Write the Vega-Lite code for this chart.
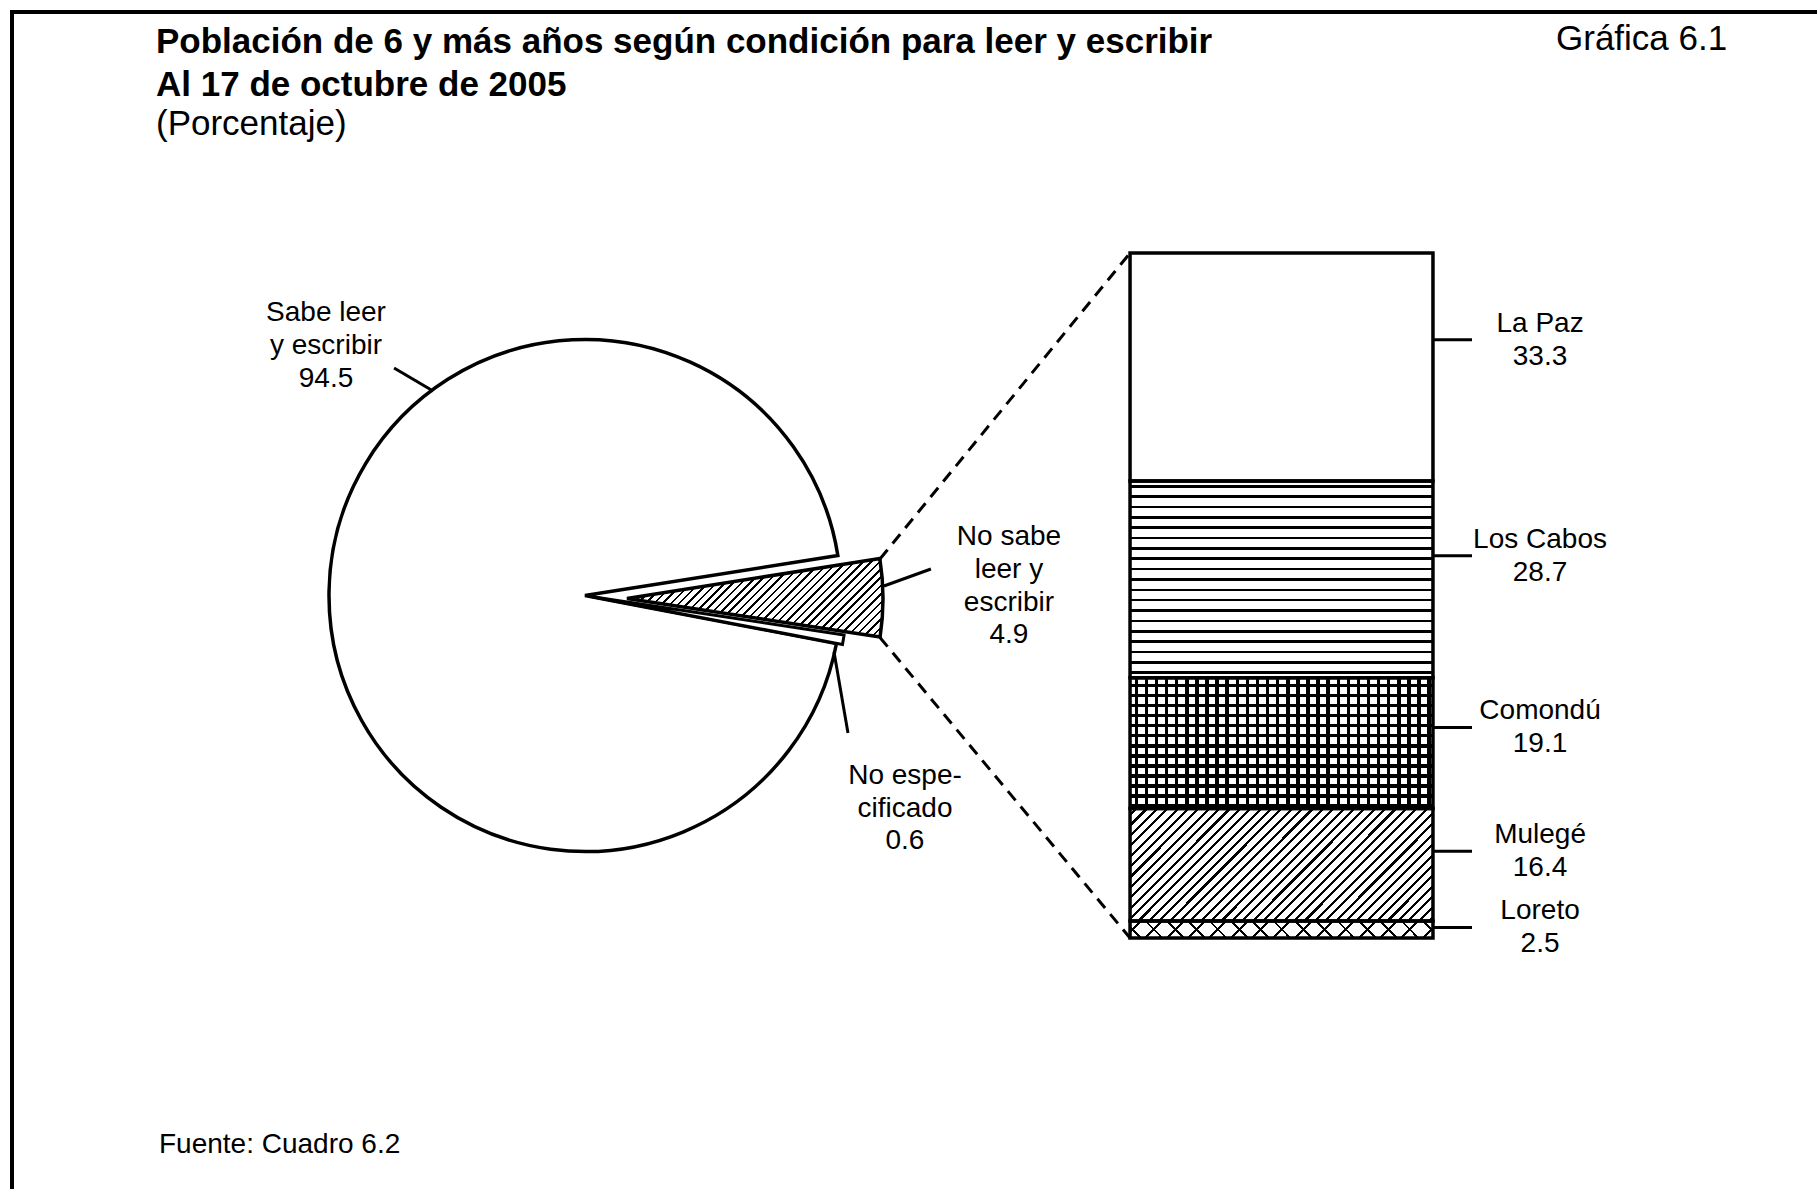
{
"$schema": "https://vega.github.io/schema/vega-lite/v6.json",
"width": 1815, "height": 1187,
"autosize": "none",
"padding": {"left": 12, "top": 12, "right": -10, "bottom": -10},
"background": "white",
"config": {"font": "Liberation Sans", "view": {"stroke": "black", "strokeWidth": 4}, "axis": {"disable": true}},
"title": {"text": ["Población de 6 y más años según condición para leer y escribir", "Al 17 de octubre de 2005"], "subtitle": "(Porcentaje)", "anchor": "start", "frame": "group", "orient": "top", "offset": -130, "dx": 144, "font": "Liberation Sans", "fontSize": 35, "fontWeight": "bold", "lineHeight": 43, "color": "black", "subtitleFont": "Liberation Sans", "subtitleFontSize": 35, "subtitleFontWeight": "normal", "subtitleColor": "black", "subtitlePadding": 4, "subtitleLineHeight": 43},
"datasets": {
 "condicion": [
  {"condicion": "Sabe leer\ny escribir", "pct": 94.5, "orden": 3},
  {"condicion": "No sabe\nleer y\nescribir", "pct": 4.9, "orden": 1},
  {"condicion": "No espe-\ncificado", "pct": 0.6, "orden": 2}
 ],
 "municipios": [
  {"municipio": "La Paz", "pct": 33.3, "orden": 5},
  {"municipio": "Los Cabos", "pct": 28.7, "orden": 4},
  {"municipio": "Comondú", "pct": 19.1, "orden": 3},
  {"municipio": "Mulegé", "pct": 16.4, "orden": 2},
  {"municipio": "Loreto", "pct": 2.5, "orden": 1}
 ],
 "notas": [
  {"nota": "Gráfica 6.1", "tipo": "grafica"},
  {"nota": "Fuente: Cuadro 6.2", "tipo": "fuente"}
 ]
},
"layer": [
 {"data": {"name": "condicion"},
  "transform": [{"stack": "pct", "groupby": [], "sort": [{"field": "orden", "order": "ascending"}], "as": ["t0", "t1"]}, {"filter": "datum.orden === 3"}],
  "mark": {"type": "arc", "outerRadius": 256, "fill": "white", "stroke": "black", "strokeWidth": 3.5},
  "encoding": {
   "x": {"datum": 31.57, "type": "quantitative", "scale": {"domain": [0, 100], "nice": false, "zero": false}},
   "y": {"datum": 50, "type": "quantitative", "scale": {"domain": [0, 100], "range": [926, 241], "nice": false, "zero": false}},
   "theta": {"field": "t0", "type": "quantitative", "scale": {"type": "linear", "domain": [0, 100], "range": [1.41372, 7.6969], "zero": false, "nice": false}},
   "theta2": {"field": "t1"}}},
 {"data": {"name": "condicion"},
  "transform": [{"stack": "pct", "groupby": [], "sort": [{"field": "orden", "order": "ascending"}], "as": ["t0", "t1"]}, {"filter": "datum.orden === 2"}],
  "mark": {"type": "arc", "outerRadius": 256, "fill": "white", "stroke": "black", "strokeWidth": 3, "xOffset": 6, "yOffset": 1},
  "encoding": {
   "x": {"datum": 31.57, "type": "quantitative", "scale": {"domain": [0, 100], "nice": false, "zero": false}},
   "y": {"datum": 50, "type": "quantitative", "scale": {"domain": [0, 100], "range": [926, 241], "nice": false, "zero": false}},
   "theta": {"field": "t0", "type": "quantitative", "scale": {"type": "linear", "domain": [0, 100], "range": [1.41372, 7.6969], "zero": false, "nice": false}},
   "theta2": {"field": "t1"}}},
 {"data": {"name": "condicion"},
  "transform": [{"stack": "pct", "groupby": [], "sort": [{"field": "orden", "order": "ascending"}], "as": ["t0", "t1"]}, {"filter": "datum.orden === 1"}],
  "mark": {"type": "arc", "outerRadius": 256, "stroke": "black", "strokeWidth": 3.5, "xOffset": 42, "yOffset": 3,
   "fill": {"gradient": "linear", "x1": 0, "y1": 0, "x2": 1.194, "y2": 0.366, "stops": [
{"offset":0,"color":"#fff"},
{"offset":0.012,"color":"#fff"},{"offset":0.012,"color":"#000"},{"offset":0.0195,"color":"#000"},{"offset":0.0195,"color":"#fff"},
{"offset":0.037,"color":"#fff"},{"offset":0.037,"color":"#000"},{"offset":0.0445,"color":"#000"},{"offset":0.0445,"color":"#fff"},
{"offset":0.062,"color":"#fff"},{"offset":0.062,"color":"#000"},{"offset":0.0695,"color":"#000"},{"offset":0.0695,"color":"#fff"},
{"offset":0.087,"color":"#fff"},{"offset":0.087,"color":"#000"},{"offset":0.0945,"color":"#000"},{"offset":0.0945,"color":"#fff"},
{"offset":0.112,"color":"#fff"},{"offset":0.112,"color":"#000"},{"offset":0.1195,"color":"#000"},{"offset":0.1195,"color":"#fff"},
{"offset":0.137,"color":"#fff"},{"offset":0.137,"color":"#000"},{"offset":0.1445,"color":"#000"},{"offset":0.1445,"color":"#fff"},
{"offset":0.162,"color":"#fff"},{"offset":0.162,"color":"#000"},{"offset":0.1695,"color":"#000"},{"offset":0.1695,"color":"#fff"},
{"offset":0.187,"color":"#fff"},{"offset":0.187,"color":"#000"},{"offset":0.1945,"color":"#000"},{"offset":0.1945,"color":"#fff"},
{"offset":0.212,"color":"#fff"},{"offset":0.212,"color":"#000"},{"offset":0.2195,"color":"#000"},{"offset":0.2195,"color":"#fff"},
{"offset":0.237,"color":"#fff"},{"offset":0.237,"color":"#000"},{"offset":0.2445,"color":"#000"},{"offset":0.2445,"color":"#fff"},
{"offset":0.262,"color":"#fff"},{"offset":0.262,"color":"#000"},{"offset":0.2695,"color":"#000"},{"offset":0.2695,"color":"#fff"},
{"offset":0.287,"color":"#fff"},{"offset":0.287,"color":"#000"},{"offset":0.2945,"color":"#000"},{"offset":0.2945,"color":"#fff"},
{"offset":0.312,"color":"#fff"},{"offset":0.312,"color":"#000"},{"offset":0.3195,"color":"#000"},{"offset":0.3195,"color":"#fff"},
{"offset":0.337,"color":"#fff"},{"offset":0.337,"color":"#000"},{"offset":0.3445,"color":"#000"},{"offset":0.3445,"color":"#fff"},
{"offset":0.362,"color":"#fff"},{"offset":0.362,"color":"#000"},{"offset":0.3695,"color":"#000"},{"offset":0.3695,"color":"#fff"},
{"offset":0.387,"color":"#fff"},{"offset":0.387,"color":"#000"},{"offset":0.3945,"color":"#000"},{"offset":0.3945,"color":"#fff"},
{"offset":0.412,"color":"#fff"},{"offset":0.412,"color":"#000"},{"offset":0.4195,"color":"#000"},{"offset":0.4195,"color":"#fff"},
{"offset":0.437,"color":"#fff"},{"offset":0.437,"color":"#000"},{"offset":0.4445,"color":"#000"},{"offset":0.4445,"color":"#fff"},
{"offset":0.462,"color":"#fff"},{"offset":0.462,"color":"#000"},{"offset":0.4695,"color":"#000"},{"offset":0.4695,"color":"#fff"},
{"offset":0.487,"color":"#fff"},{"offset":0.487,"color":"#000"},{"offset":0.4945,"color":"#000"},{"offset":0.4945,"color":"#fff"},
{"offset":0.512,"color":"#fff"},{"offset":0.512,"color":"#000"},{"offset":0.5195,"color":"#000"},{"offset":0.5195,"color":"#fff"},
{"offset":0.537,"color":"#fff"},{"offset":0.537,"color":"#000"},{"offset":0.5445,"color":"#000"},{"offset":0.5445,"color":"#fff"},
{"offset":0.562,"color":"#fff"},{"offset":0.562,"color":"#000"},{"offset":0.5695,"color":"#000"},{"offset":0.5695,"color":"#fff"},
{"offset":0.587,"color":"#fff"},{"offset":0.587,"color":"#000"},{"offset":0.5945,"color":"#000"},{"offset":0.5945,"color":"#fff"},
{"offset":0.612,"color":"#fff"},{"offset":0.612,"color":"#000"},{"offset":0.6195,"color":"#000"},{"offset":0.6195,"color":"#fff"},
{"offset":0.637,"color":"#fff"},{"offset":0.637,"color":"#000"},{"offset":0.6445,"color":"#000"},{"offset":0.6445,"color":"#fff"},
{"offset":0.662,"color":"#fff"},{"offset":0.662,"color":"#000"},{"offset":0.6695,"color":"#000"},{"offset":0.6695,"color":"#fff"},
{"offset":0.687,"color":"#fff"},{"offset":0.687,"color":"#000"},{"offset":0.6945,"color":"#000"},{"offset":0.6945,"color":"#fff"},
{"offset":0.712,"color":"#fff"},{"offset":0.712,"color":"#000"},{"offset":0.7195,"color":"#000"},{"offset":0.7195,"color":"#fff"},
{"offset":0.737,"color":"#fff"},{"offset":0.737,"color":"#000"},{"offset":0.7445,"color":"#000"},{"offset":0.7445,"color":"#fff"},
{"offset":0.762,"color":"#fff"},{"offset":0.762,"color":"#000"},{"offset":0.7695,"color":"#000"},{"offset":0.7695,"color":"#fff"},
{"offset":0.787,"color":"#fff"},{"offset":0.787,"color":"#000"},{"offset":0.7945,"color":"#000"},{"offset":0.7945,"color":"#fff"},
{"offset":0.812,"color":"#fff"},{"offset":0.812,"color":"#000"},{"offset":0.8195,"color":"#000"},{"offset":0.8195,"color":"#fff"},
{"offset":0.837,"color":"#fff"},{"offset":0.837,"color":"#000"},{"offset":0.8445,"color":"#000"},{"offset":0.8445,"color":"#fff"},
{"offset":0.862,"color":"#fff"},{"offset":0.862,"color":"#000"},{"offset":0.8695,"color":"#000"},{"offset":0.8695,"color":"#fff"},
{"offset":0.887,"color":"#fff"},{"offset":0.887,"color":"#000"},{"offset":0.8945,"color":"#000"},{"offset":0.8945,"color":"#fff"},
{"offset":0.912,"color":"#fff"},{"offset":0.912,"color":"#000"},{"offset":0.9195,"color":"#000"},{"offset":0.9195,"color":"#fff"},
{"offset":0.937,"color":"#fff"},{"offset":0.937,"color":"#000"},{"offset":0.9445,"color":"#000"},{"offset":0.9445,"color":"#fff"},
{"offset":0.962,"color":"#fff"},{"offset":0.962,"color":"#000"},{"offset":0.9695,"color":"#000"},{"offset":0.9695,"color":"#fff"},
{"offset":0.987,"color":"#fff"},{"offset":0.987,"color":"#000"},{"offset":0.9945,"color":"#000"},{"offset":0.9945,"color":"#fff"},
{"offset":1,"color":"#fff"}]}},
  "encoding": {
   "x": {"datum": 31.57, "type": "quantitative", "scale": {"domain": [0, 100], "nice": false, "zero": false}},
   "y": {"datum": 50, "type": "quantitative", "scale": {"domain": [0, 100], "range": [926, 241], "nice": false, "zero": false}},
   "theta": {"field": "t0", "type": "quantitative", "scale": {"type": "linear", "domain": [0, 100], "range": [1.41372, 7.6969], "zero": false, "nice": false}},
   "theta2": {"field": "t1"}}},
 {"data": {"name": "condicion"}, "transform": [{"filter": "datum.orden === 3"}],
  "mark": {"type": "rule", "strokeWidth": 3, "color": "black"},
  "encoding": {
   "x": {"datum": 21.05, "type": "quantitative", "scale": {"domain": [0, 100], "nice": false, "zero": false}},
   "y": {"datum": 83.21, "type": "quantitative", "scale": {"domain": [0, 100], "range": [926, 241], "nice": false, "zero": false}},
   "x2": {"datum": 23.2}, "y2": {"datum": 79.85}}},
 {"data": {"name": "condicion"}, "transform": [{"filter": "datum.orden === 1"}],
  "mark": {"type": "rule", "strokeWidth": 3, "color": "black"},
  "encoding": {
   "x": {"datum": 48.04, "type": "quantitative", "scale": {"domain": [0, 100], "nice": false, "zero": false}},
   "y": {"datum": 51.39, "type": "quantitative", "scale": {"domain": [0, 100], "range": [926, 241], "nice": false, "zero": false}},
   "x2": {"datum": 50.63}, "y2": {"datum": 53.87}}},
 {"data": {"name": "condicion"}, "transform": [{"filter": "datum.orden === 2"}],
  "mark": {"type": "rule", "strokeWidth": 3, "color": "black"},
  "encoding": {
   "x": {"datum": 45.29, "type": "quantitative", "scale": {"domain": [0, 100], "nice": false, "zero": false}},
   "y": {"datum": 41.75, "type": "quantitative", "scale": {"domain": [0, 100], "range": [926, 241], "nice": false, "zero": false}},
   "x2": {"datum": 46.06}, "y2": {"datum": 29.93}}},
 {"data": {"name": "condicion"}, "transform": [{"filter": "datum.orden === 1"}],
  "mark": {"type": "rule", "strokeWidth": 3, "strokeDash": [12, 8], "color": "black"},
  "encoding": {
   "x": {"datum": 47.82, "type": "quantitative", "scale": {"domain": [0, 100], "nice": false, "zero": false}},
   "y": {"datum": 55.33, "type": "quantitative", "scale": {"domain": [0, 100], "range": [926, 241], "nice": false, "zero": false}},
   "x2": {"datum": 61.6}, "y2": {"datum": 100}}},
 {"data": {"name": "condicion"}, "transform": [{"filter": "datum.orden === 1"}],
  "mark": {"type": "rule", "strokeWidth": 3, "strokeDash": [12, 8], "color": "black"},
  "encoding": {
   "x": {"datum": 47.82, "type": "quantitative", "scale": {"domain": [0, 100], "nice": false, "zero": false}},
   "y": {"datum": 43.88, "type": "quantitative", "scale": {"domain": [0, 100], "range": [926, 241], "nice": false, "zero": false}},
   "x2": {"datum": 61.6}, "y2": {"datum": 0}}},
 {"data": {"name": "condicion"}, "transform": [{"filter": "datum.orden === 3"}],
  "mark": {"type": "text", "lineBreak": "\n", "baseline": "top", "align": "center", "fontSize": 28, "lineHeight": 33, "fill": "black"},
  "encoding": {
   "x": {"datum": 17.3, "type": "quantitative", "scale": {"domain": [0, 100], "nice": false, "zero": false}},
   "y": {"datum": 93.28, "type": "quantitative", "scale": {"domain": [0, 100], "range": [926, 241], "nice": false, "zero": false}},
   "text": {"field": "condicion", "type": "nominal"}}},
 {"data": {"name": "condicion"}, "transform": [{"filter": "datum.orden === 3"}],
  "mark": {"type": "text", "baseline": "alphabetic", "align": "center", "fontSize": 28, "fill": "black"},
  "encoding": {
   "x": {"datum": 17.3, "type": "quantitative", "scale": {"domain": [0, 100], "nice": false, "zero": false}},
   "y": {"datum": 80.44, "type": "quantitative", "scale": {"domain": [0, 100], "range": [926, 241], "nice": false, "zero": false}},
   "text": {"field": "pct", "type": "quantitative", "format": ".1f"}}},
 {"data": {"name": "condicion"}, "transform": [{"filter": "datum.orden === 1"}],
  "mark": {"type": "text", "lineBreak": "\n", "baseline": "top", "align": "center", "fontSize": 28, "lineHeight": 33, "fill": "black"},
  "encoding": {
   "x": {"datum": 54.93, "type": "quantitative", "scale": {"domain": [0, 100], "nice": false, "zero": false}},
   "y": {"datum": 60.58, "type": "quantitative", "scale": {"domain": [0, 100], "range": [926, 241], "nice": false, "zero": false}},
   "text": {"field": "condicion", "type": "nominal"}}},
 {"data": {"name": "condicion"}, "transform": [{"filter": "datum.orden === 1"}],
  "mark": {"type": "text", "baseline": "alphabetic", "align": "center", "fontSize": 28, "fill": "black"},
  "encoding": {
   "x": {"datum": 54.93, "type": "quantitative", "scale": {"domain": [0, 100], "nice": false, "zero": false}},
   "y": {"datum": 43.07, "type": "quantitative", "scale": {"domain": [0, 100], "range": [926, 241], "nice": false, "zero": false}},
   "text": {"field": "pct", "type": "quantitative", "format": ".1f"}}},
 {"data": {"name": "condicion"}, "transform": [{"filter": "datum.orden === 2"}],
  "mark": {"type": "text", "lineBreak": "\n", "baseline": "top", "align": "center", "fontSize": 28, "lineHeight": 33, "fill": "black"},
  "encoding": {
   "x": {"datum": 49.2, "type": "quantitative", "scale": {"domain": [0, 100], "nice": false, "zero": false}},
   "y": {"datum": 25.69, "type": "quantitative", "scale": {"domain": [0, 100], "range": [926, 241], "nice": false, "zero": false}},
   "text": {"field": "condicion", "type": "nominal"}}},
 {"data": {"name": "condicion"}, "transform": [{"filter": "datum.orden === 2"}],
  "mark": {"type": "text", "baseline": "alphabetic", "align": "center", "fontSize": 28, "fill": "black"},
  "encoding": {
   "x": {"datum": 49.2, "type": "quantitative", "scale": {"domain": [0, 100], "nice": false, "zero": false}},
   "y": {"datum": 12.99, "type": "quantitative", "scale": {"domain": [0, 100], "range": [926, 241], "nice": false, "zero": false}},
   "text": {"field": "pct", "type": "quantitative", "format": ".1f"}}},
 {"data": {"name": "municipios"},
  "transform": [{"stack": "pct", "groupby": [], "sort": [{"field": "orden", "order": "ascending"}], "as": ["y0", "y1"]}, {"filter": "datum.municipio === 'Los Cabos'"}],
  "mark": {"type": "rect", "fill": {"gradient": "linear", "x1": 1, "y1": 0, "x2": 1, "y2": 1, "stops": [
{"offset":0,"color":"#fff"},
{"offset":0.02,"color":"#fff"},{"offset":0.02,"color":"#000"},{"offset":0.0335,"color":"#000"},{"offset":0.0335,"color":"#fff"},
{"offset":0.0726,"color":"#fff"},{"offset":0.0726,"color":"#000"},{"offset":0.0861,"color":"#000"},{"offset":0.0861,"color":"#fff"},
{"offset":0.1253,"color":"#fff"},{"offset":0.1253,"color":"#000"},{"offset":0.1388,"color":"#000"},{"offset":0.1388,"color":"#fff"},
{"offset":0.1779,"color":"#fff"},{"offset":0.1779,"color":"#000"},{"offset":0.1914,"color":"#000"},{"offset":0.1914,"color":"#fff"},
{"offset":0.2305,"color":"#fff"},{"offset":0.2305,"color":"#000"},{"offset":0.244,"color":"#000"},{"offset":0.244,"color":"#fff"},
{"offset":0.2832,"color":"#fff"},{"offset":0.2832,"color":"#000"},{"offset":0.2967,"color":"#000"},{"offset":0.2967,"color":"#fff"},
{"offset":0.3358,"color":"#fff"},{"offset":0.3358,"color":"#000"},{"offset":0.3493,"color":"#000"},{"offset":0.3493,"color":"#fff"},
{"offset":0.3884,"color":"#fff"},{"offset":0.3884,"color":"#000"},{"offset":0.4019,"color":"#000"},{"offset":0.4019,"color":"#fff"},
{"offset":0.4411,"color":"#fff"},{"offset":0.4411,"color":"#000"},{"offset":0.4546,"color":"#000"},{"offset":0.4546,"color":"#fff"},
{"offset":0.4937,"color":"#fff"},{"offset":0.4937,"color":"#000"},{"offset":0.5072,"color":"#000"},{"offset":0.5072,"color":"#fff"},
{"offset":0.5463,"color":"#fff"},{"offset":0.5463,"color":"#000"},{"offset":0.5598,"color":"#000"},{"offset":0.5598,"color":"#fff"},
{"offset":0.5989,"color":"#fff"},{"offset":0.5989,"color":"#000"},{"offset":0.6124,"color":"#000"},{"offset":0.6124,"color":"#fff"},
{"offset":0.6516,"color":"#fff"},{"offset":0.6516,"color":"#000"},{"offset":0.6651,"color":"#000"},{"offset":0.6651,"color":"#fff"},
{"offset":0.7042,"color":"#fff"},{"offset":0.7042,"color":"#000"},{"offset":0.7177,"color":"#000"},{"offset":0.7177,"color":"#fff"},
{"offset":0.7568,"color":"#fff"},{"offset":0.7568,"color":"#000"},{"offset":0.7703,"color":"#000"},{"offset":0.7703,"color":"#fff"},
{"offset":0.8095,"color":"#fff"},{"offset":0.8095,"color":"#000"},{"offset":0.823,"color":"#000"},{"offset":0.823,"color":"#fff"},
{"offset":0.8621,"color":"#fff"},{"offset":0.8621,"color":"#000"},{"offset":0.8756,"color":"#000"},{"offset":0.8756,"color":"#fff"},
{"offset":0.9147,"color":"#fff"},{"offset":0.9147,"color":"#000"},{"offset":0.9282,"color":"#000"},{"offset":0.9282,"color":"#fff"},
{"offset":0.9674,"color":"#fff"},{"offset":0.9674,"color":"#000"},{"offset":0.9809,"color":"#000"},{"offset":0.9809,"color":"#fff"},
{"offset":1,"color":"#fff"}]}},
  "encoding": {
   "x": {"datum": 61.6, "type": "quantitative", "scale": {"domain": [0, 100], "nice": false, "zero": false}},
   "x2": {"datum": 78.29},
   "y": {"field": "y0", "type": "quantitative", "scale": {"domain": [0, 100], "range": [926, 241], "nice": false, "zero": false}},
   "y2": {"field": "y1"}}},
 {"data": {"name": "municipios"},
  "transform": [{"stack": "pct", "groupby": [], "sort": [{"field": "orden", "order": "ascending"}], "as": ["y0", "y1"]}, {"filter": "datum.municipio === 'Comondú'"}],
  "mark": {"type": "rect", "fill": {"gradient": "linear", "x1": 1, "y1": 0, "x2": 1, "y2": 1, "stops": [
{"offset":0,"color":"#fff"},
{"offset":0.045,"color":"#fff"},{"offset":0.045,"color":"#000"},{"offset":0.072,"color":"#000"},{"offset":0.072,"color":"#fff"},
{"offset":0.122,"color":"#fff"},{"offset":0.122,"color":"#000"},{"offset":0.149,"color":"#000"},{"offset":0.149,"color":"#fff"},
{"offset":0.199,"color":"#fff"},{"offset":0.199,"color":"#000"},{"offset":0.226,"color":"#000"},{"offset":0.226,"color":"#fff"},
{"offset":0.276,"color":"#fff"},{"offset":0.276,"color":"#000"},{"offset":0.303,"color":"#000"},{"offset":0.303,"color":"#fff"},
{"offset":0.353,"color":"#fff"},{"offset":0.353,"color":"#000"},{"offset":0.38,"color":"#000"},{"offset":0.38,"color":"#fff"},
{"offset":0.43,"color":"#fff"},{"offset":0.43,"color":"#000"},{"offset":0.457,"color":"#000"},{"offset":0.457,"color":"#fff"},
{"offset":0.507,"color":"#fff"},{"offset":0.507,"color":"#000"},{"offset":0.534,"color":"#000"},{"offset":0.534,"color":"#fff"},
{"offset":0.583,"color":"#fff"},{"offset":0.583,"color":"#000"},{"offset":0.61,"color":"#000"},{"offset":0.61,"color":"#fff"},
{"offset":0.66,"color":"#fff"},{"offset":0.66,"color":"#000"},{"offset":0.687,"color":"#000"},{"offset":0.687,"color":"#fff"},
{"offset":0.737,"color":"#fff"},{"offset":0.737,"color":"#000"},{"offset":0.764,"color":"#000"},{"offset":0.764,"color":"#fff"},
{"offset":0.814,"color":"#fff"},{"offset":0.814,"color":"#000"},{"offset":0.841,"color":"#000"},{"offset":0.841,"color":"#fff"},
{"offset":0.891,"color":"#fff"},{"offset":0.891,"color":"#000"},{"offset":0.918,"color":"#000"},{"offset":0.918,"color":"#fff"},
{"offset":0.968,"color":"#fff"},{"offset":0.968,"color":"#000"},{"offset":0.995,"color":"#000"},{"offset":0.995,"color":"#fff"},
{"offset":1,"color":"#fff"}]}},
  "encoding": {
   "x": {"datum": 61.6, "type": "quantitative", "scale": {"domain": [0, 100], "nice": false, "zero": false}},
   "x2": {"datum": 78.29},
   "y": {"field": "y0", "type": "quantitative", "scale": {"domain": [0, 100], "range": [926, 241], "nice": false, "zero": false}},
   "y2": {"field": "y1"}}},
 {"data": {"name": "municipios"},
  "transform": [{"stack": "pct", "groupby": [], "sort": [{"field": "orden", "order": "ascending"}], "as": ["y0", "y1"]}, {"filter": "datum.municipio === 'Comondú'"}],
  "mark": {"type": "rect", "fill": {"gradient": "linear", "x1": 0, "y1": 0, "x2": 1, "y2": 0, "stops": [
{"offset":0,"color":"rgba(0,0,0,0)"},
{"offset":0.015,"color":"rgba(0,0,0,0)"},{"offset":0.015,"color":"#000"},{"offset":0.0265,"color":"#000"},{"offset":0.0265,"color":"rgba(0,0,0,0)"},
{"offset":0.0483,"color":"rgba(0,0,0,0)"},{"offset":0.0483,"color":"#000"},{"offset":0.0598,"color":"#000"},{"offset":0.0598,"color":"rgba(0,0,0,0)"},
{"offset":0.0817,"color":"rgba(0,0,0,0)"},{"offset":0.0817,"color":"#000"},{"offset":0.0932,"color":"#000"},{"offset":0.0932,"color":"rgba(0,0,0,0)"},
{"offset":0.115,"color":"rgba(0,0,0,0)"},{"offset":0.115,"color":"#000"},{"offset":0.1265,"color":"#000"},{"offset":0.1265,"color":"rgba(0,0,0,0)"},
{"offset":0.1483,"color":"rgba(0,0,0,0)"},{"offset":0.1483,"color":"#000"},{"offset":0.1598,"color":"#000"},{"offset":0.1598,"color":"rgba(0,0,0,0)"},
{"offset":0.1817,"color":"rgba(0,0,0,0)"},{"offset":0.1817,"color":"#000"},{"offset":0.1932,"color":"#000"},{"offset":0.1932,"color":"rgba(0,0,0,0)"},
{"offset":0.215,"color":"rgba(0,0,0,0)"},{"offset":0.215,"color":"#000"},{"offset":0.2265,"color":"#000"},{"offset":0.2265,"color":"rgba(0,0,0,0)"},
{"offset":0.2483,"color":"rgba(0,0,0,0)"},{"offset":0.2483,"color":"#000"},{"offset":0.2598,"color":"#000"},{"offset":0.2598,"color":"rgba(0,0,0,0)"},
{"offset":0.2817,"color":"rgba(0,0,0,0)"},{"offset":0.2817,"color":"#000"},{"offset":0.2932,"color":"#000"},{"offset":0.2932,"color":"rgba(0,0,0,0)"},
{"offset":0.315,"color":"rgba(0,0,0,0)"},{"offset":0.315,"color":"#000"},{"offset":0.3265,"color":"#000"},{"offset":0.3265,"color":"rgba(0,0,0,0)"},
{"offset":0.3483,"color":"rgba(0,0,0,0)"},{"offset":0.3483,"color":"#000"},{"offset":0.3598,"color":"#000"},{"offset":0.3598,"color":"rgba(0,0,0,0)"},
{"offset":0.3817,"color":"rgba(0,0,0,0)"},{"offset":0.3817,"color":"#000"},{"offset":0.3932,"color":"#000"},{"offset":0.3932,"color":"rgba(0,0,0,0)"},
{"offset":0.415,"color":"rgba(0,0,0,0)"},{"offset":0.415,"color":"#000"},{"offset":0.4265,"color":"#000"},{"offset":0.4265,"color":"rgba(0,0,0,0)"},
{"offset":0.4483,"color":"rgba(0,0,0,0)"},{"offset":0.4483,"color":"#000"},{"offset":0.4598,"color":"#000"},{"offset":0.4598,"color":"rgba(0,0,0,0)"},
{"offset":0.4817,"color":"rgba(0,0,0,0)"},{"offset":0.4817,"color":"#000"},{"offset":0.4932,"color":"#000"},{"offset":0.4932,"color":"rgba(0,0,0,0)"},
{"offset":0.515,"color":"rgba(0,0,0,0)"},{"offset":0.515,"color":"#000"},{"offset":0.5265,"color":"#000"},{"offset":0.5265,"color":"rgba(0,0,0,0)"},
{"offset":0.5483,"color":"rgba(0,0,0,0)"},{"offset":0.5483,"color":"#000"},{"offset":0.5598,"color":"#000"},{"offset":0.5598,"color":"rgba(0,0,0,0)"},
{"offset":0.5817,"color":"rgba(0,0,0,0)"},{"offset":0.5817,"color":"#000"},{"offset":0.5932,"color":"#000"},{"offset":0.5932,"color":"rgba(0,0,0,0)"},
{"offset":0.615,"color":"rgba(0,0,0,0)"},{"offset":0.615,"color":"#000"},{"offset":0.6265,"color":"#000"},{"offset":0.6265,"color":"rgba(0,0,0,0)"},
{"offset":0.6483,"color":"rgba(0,0,0,0)"},{"offset":0.6483,"color":"#000"},{"offset":0.6598,"color":"#000"},{"offset":0.6598,"color":"rgba(0,0,0,0)"},
{"offset":0.6817,"color":"rgba(0,0,0,0)"},{"offset":0.6817,"color":"#000"},{"offset":0.6932,"color":"#000"},{"offset":0.6932,"color":"rgba(0,0,0,0)"},
{"offset":0.715,"color":"rgba(0,0,0,0)"},{"offset":0.715,"color":"#000"},{"offset":0.7265,"color":"#000"},{"offset":0.7265,"color":"rgba(0,0,0,0)"},
{"offset":0.7483,"color":"rgba(0,0,0,0)"},{"offset":0.7483,"color":"#000"},{"offset":0.7598,"color":"#000"},{"offset":0.7598,"color":"rgba(0,0,0,0)"},
{"offset":0.7817,"color":"rgba(0,0,0,0)"},{"offset":0.7817,"color":"#000"},{"offset":0.7932,"color":"#000"},{"offset":0.7932,"color":"rgba(0,0,0,0)"},
{"offset":0.815,"color":"rgba(0,0,0,0)"},{"offset":0.815,"color":"#000"},{"offset":0.8265,"color":"#000"},{"offset":0.8265,"color":"rgba(0,0,0,0)"},
{"offset":0.8483,"color":"rgba(0,0,0,0)"},{"offset":0.8483,"color":"#000"},{"offset":0.8598,"color":"#000"},{"offset":0.8598,"color":"rgba(0,0,0,0)"},
{"offset":0.8817,"color":"rgba(0,0,0,0)"},{"offset":0.8817,"color":"#000"},{"offset":0.8932,"color":"#000"},{"offset":0.8932,"color":"rgba(0,0,0,0)"},
{"offset":0.915,"color":"rgba(0,0,0,0)"},{"offset":0.915,"color":"#000"},{"offset":0.9265,"color":"#000"},{"offset":0.9265,"color":"rgba(0,0,0,0)"},
{"offset":0.9483,"color":"rgba(0,0,0,0)"},{"offset":0.9483,"color":"#000"},{"offset":0.9598,"color":"#000"},{"offset":0.9598,"color":"rgba(0,0,0,0)"},
{"offset":0.9817,"color":"rgba(0,0,0,0)"},{"offset":0.9817,"color":"#000"},{"offset":0.9932,"color":"#000"},{"offset":0.9932,"color":"rgba(0,0,0,0)"},
{"offset":1,"color":"rgba(0,0,0,0)"}]}},
  "encoding": {
   "x": {"datum": 61.6, "type": "quantitative", "scale": {"domain": [0, 100], "nice": false, "zero": false}},
   "x2": {"datum": 78.29},
   "y": {"field": "y0", "type": "quantitative", "scale": {"domain": [0, 100], "range": [926, 241], "nice": false, "zero": false}},
   "y2": {"field": "y1"}}},
 {"data": {"name": "municipios"},
  "transform": [{"stack": "pct", "groupby": [], "sort": [{"field": "orden", "order": "ascending"}], "as": ["y0", "y1"]}, {"filter": "datum.municipio === 'Mulegé'"}],
  "mark": {"type": "rect", "fill": {"gradient": "linear", "x1": 0, "y1": 0, "x2": 1.205, "y2": 0.446, "stops": [
{"offset":0,"color":"#fff"},
{"offset":0.012,"color":"#fff"},{"offset":0.012,"color":"#000"},{"offset":0.0195,"color":"#000"},{"offset":0.0195,"color":"#fff"},
{"offset":0.037,"color":"#fff"},{"offset":0.037,"color":"#000"},{"offset":0.0445,"color":"#000"},{"offset":0.0445,"color":"#fff"},
{"offset":0.062,"color":"#fff"},{"offset":0.062,"color":"#000"},{"offset":0.0695,"color":"#000"},{"offset":0.0695,"color":"#fff"},
{"offset":0.087,"color":"#fff"},{"offset":0.087,"color":"#000"},{"offset":0.0945,"color":"#000"},{"offset":0.0945,"color":"#fff"},
{"offset":0.112,"color":"#fff"},{"offset":0.112,"color":"#000"},{"offset":0.1195,"color":"#000"},{"offset":0.1195,"color":"#fff"},
{"offset":0.137,"color":"#fff"},{"offset":0.137,"color":"#000"},{"offset":0.1445,"color":"#000"},{"offset":0.1445,"color":"#fff"},
{"offset":0.162,"color":"#fff"},{"offset":0.162,"color":"#000"},{"offset":0.1695,"color":"#000"},{"offset":0.1695,"color":"#fff"},
{"offset":0.187,"color":"#fff"},{"offset":0.187,"color":"#000"},{"offset":0.1945,"color":"#000"},{"offset":0.1945,"color":"#fff"},
{"offset":0.212,"color":"#fff"},{"offset":0.212,"color":"#000"},{"offset":0.2195,"color":"#000"},{"offset":0.2195,"color":"#fff"},
{"offset":0.237,"color":"#fff"},{"offset":0.237,"color":"#000"},{"offset":0.2445,"color":"#000"},{"offset":0.2445,"color":"#fff"},
{"offset":0.262,"color":"#fff"},{"offset":0.262,"color":"#000"},{"offset":0.2695,"color":"#000"},{"offset":0.2695,"color":"#fff"},
{"offset":0.287,"color":"#fff"},{"offset":0.287,"color":"#000"},{"offset":0.2945,"color":"#000"},{"offset":0.2945,"color":"#fff"},
{"offset":0.312,"color":"#fff"},{"offset":0.312,"color":"#000"},{"offset":0.3195,"color":"#000"},{"offset":0.3195,"color":"#fff"},
{"offset":0.337,"color":"#fff"},{"offset":0.337,"color":"#000"},{"offset":0.3445,"color":"#000"},{"offset":0.3445,"color":"#fff"},
{"offset":0.362,"color":"#fff"},{"offset":0.362,"color":"#000"},{"offset":0.3695,"color":"#000"},{"offset":0.3695,"color":"#fff"},
{"offset":0.387,"color":"#fff"},{"offset":0.387,"color":"#000"},{"offset":0.3945,"color":"#000"},{"offset":0.3945,"color":"#fff"},
{"offset":0.412,"color":"#fff"},{"offset":0.412,"color":"#000"},{"offset":0.4195,"color":"#000"},{"offset":0.4195,"color":"#fff"},
{"offset":0.437,"color":"#fff"},{"offset":0.437,"color":"#000"},{"offset":0.4445,"color":"#000"},{"offset":0.4445,"color":"#fff"},
{"offset":0.462,"color":"#fff"},{"offset":0.462,"color":"#000"},{"offset":0.4695,"color":"#000"},{"offset":0.4695,"color":"#fff"},
{"offset":0.487,"color":"#fff"},{"offset":0.487,"color":"#000"},{"offset":0.4945,"color":"#000"},{"offset":0.4945,"color":"#fff"},
{"offset":0.512,"color":"#fff"},{"offset":0.512,"color":"#000"},{"offset":0.5195,"color":"#000"},{"offset":0.5195,"color":"#fff"},
{"offset":0.537,"color":"#fff"},{"offset":0.537,"color":"#000"},{"offset":0.5445,"color":"#000"},{"offset":0.5445,"color":"#fff"},
{"offset":0.562,"color":"#fff"},{"offset":0.562,"color":"#000"},{"offset":0.5695,"color":"#000"},{"offset":0.5695,"color":"#fff"},
{"offset":0.587,"color":"#fff"},{"offset":0.587,"color":"#000"},{"offset":0.5945,"color":"#000"},{"offset":0.5945,"color":"#fff"},
{"offset":0.612,"color":"#fff"},{"offset":0.612,"color":"#000"},{"offset":0.6195,"color":"#000"},{"offset":0.6195,"color":"#fff"},
{"offset":0.637,"color":"#fff"},{"offset":0.637,"color":"#000"},{"offset":0.6445,"color":"#000"},{"offset":0.6445,"color":"#fff"},
{"offset":0.662,"color":"#fff"},{"offset":0.662,"color":"#000"},{"offset":0.6695,"color":"#000"},{"offset":0.6695,"color":"#fff"},
{"offset":0.687,"color":"#fff"},{"offset":0.687,"color":"#000"},{"offset":0.6945,"color":"#000"},{"offset":0.6945,"color":"#fff"},
{"offset":0.712,"color":"#fff"},{"offset":0.712,"color":"#000"},{"offset":0.7195,"color":"#000"},{"offset":0.7195,"color":"#fff"},
{"offset":0.737,"color":"#fff"},{"offset":0.737,"color":"#000"},{"offset":0.7445,"color":"#000"},{"offset":0.7445,"color":"#fff"},
{"offset":0.762,"color":"#fff"},{"offset":0.762,"color":"#000"},{"offset":0.7695,"color":"#000"},{"offset":0.7695,"color":"#fff"},
{"offset":0.787,"color":"#fff"},{"offset":0.787,"color":"#000"},{"offset":0.7945,"color":"#000"},{"offset":0.7945,"color":"#fff"},
{"offset":0.812,"color":"#fff"},{"offset":0.812,"color":"#000"},{"offset":0.8195,"color":"#000"},{"offset":0.8195,"color":"#fff"},
{"offset":0.837,"color":"#fff"},{"offset":0.837,"color":"#000"},{"offset":0.8445,"color":"#000"},{"offset":0.8445,"color":"#fff"},
{"offset":0.862,"color":"#fff"},{"offset":0.862,"color":"#000"},{"offset":0.8695,"color":"#000"},{"offset":0.8695,"color":"#fff"},
{"offset":0.887,"color":"#fff"},{"offset":0.887,"color":"#000"},{"offset":0.8945,"color":"#000"},{"offset":0.8945,"color":"#fff"},
{"offset":0.912,"color":"#fff"},{"offset":0.912,"color":"#000"},{"offset":0.9195,"color":"#000"},{"offset":0.9195,"color":"#fff"},
{"offset":0.937,"color":"#fff"},{"offset":0.937,"color":"#000"},{"offset":0.9445,"color":"#000"},{"offset":0.9445,"color":"#fff"},
{"offset":0.962,"color":"#fff"},{"offset":0.962,"color":"#000"},{"offset":0.9695,"color":"#000"},{"offset":0.9695,"color":"#fff"},
{"offset":0.987,"color":"#fff"},{"offset":0.987,"color":"#000"},{"offset":0.9945,"color":"#000"},{"offset":0.9945,"color":"#fff"},
{"offset":1,"color":"#fff"}]}},
  "encoding": {
   "x": {"datum": 61.6, "type": "quantitative", "scale": {"domain": [0, 100], "nice": false, "zero": false}},
   "x2": {"datum": 78.29},
   "y": {"field": "y0", "type": "quantitative", "scale": {"domain": [0, 100], "range": [926, 241], "nice": false, "zero": false}},
   "y2": {"field": "y1"}}},
 {"data": {"name": "municipios"},
  "transform": [{"stack": "pct", "groupby": [], "sort": [{"field": "orden", "order": "ascending"}], "as": ["y0", "y1"]}, {"filter": "datum.municipio === 'Loreto'"}],
  "mark": {"type": "rect", "fill": {"gradient": "linear", "x1": 0, "y1": 0, "x2": 1.053, "y2": 0.059, "stops": [
{"offset":0,"color":"#fff"},
{"offset":0.03,"color":"#fff"},{"offset":0.03,"color":"#000"},{"offset":0.039,"color":"#000"},{"offset":0.039,"color":"#fff"},
{"offset":0.0967,"color":"#fff"},{"offset":0.0967,"color":"#000"},{"offset":0.1057,"color":"#000"},{"offset":0.1057,"color":"#fff"},
{"offset":0.1633,"color":"#fff"},{"offset":0.1633,"color":"#000"},{"offset":0.1723,"color":"#000"},{"offset":0.1723,"color":"#fff"},
{"offset":0.23,"color":"#fff"},{"offset":0.23,"color":"#000"},{"offset":0.239,"color":"#000"},{"offset":0.239,"color":"#fff"},
{"offset":0.2967,"color":"#fff"},{"offset":0.2967,"color":"#000"},{"offset":0.3057,"color":"#000"},{"offset":0.3057,"color":"#fff"},
{"offset":0.3633,"color":"#fff"},{"offset":0.3633,"color":"#000"},{"offset":0.3723,"color":"#000"},{"offset":0.3723,"color":"#fff"},
{"offset":0.43,"color":"#fff"},{"offset":0.43,"color":"#000"},{"offset":0.439,"color":"#000"},{"offset":0.439,"color":"#fff"},
{"offset":0.4967,"color":"#fff"},{"offset":0.4967,"color":"#000"},{"offset":0.5057,"color":"#000"},{"offset":0.5057,"color":"#fff"},
{"offset":0.5633,"color":"#fff"},{"offset":0.5633,"color":"#000"},{"offset":0.5723,"color":"#000"},{"offset":0.5723,"color":"#fff"},
{"offset":0.63,"color":"#fff"},{"offset":0.63,"color":"#000"},{"offset":0.639,"color":"#000"},{"offset":0.639,"color":"#fff"},
{"offset":0.6967,"color":"#fff"},{"offset":0.6967,"color":"#000"},{"offset":0.7057,"color":"#000"},{"offset":0.7057,"color":"#fff"},
{"offset":0.7633,"color":"#fff"},{"offset":0.7633,"color":"#000"},{"offset":0.7723,"color":"#000"},{"offset":0.7723,"color":"#fff"},
{"offset":0.83,"color":"#fff"},{"offset":0.83,"color":"#000"},{"offset":0.839,"color":"#000"},{"offset":0.839,"color":"#fff"},
{"offset":0.8967,"color":"#fff"},{"offset":0.8967,"color":"#000"},{"offset":0.9057,"color":"#000"},{"offset":0.9057,"color":"#fff"},
{"offset":0.9633,"color":"#fff"},{"offset":0.9633,"color":"#000"},{"offset":0.9723,"color":"#000"},{"offset":0.9723,"color":"#fff"},
{"offset":1,"color":"#fff"}]}},
  "encoding": {
   "x": {"datum": 61.6, "type": "quantitative", "scale": {"domain": [0, 100], "nice": false, "zero": false}},
   "x2": {"datum": 78.29},
   "y": {"field": "y0", "type": "quantitative", "scale": {"domain": [0, 100], "range": [926, 241], "nice": false, "zero": false}},
   "y2": {"field": "y1"}}},
 {"data": {"name": "municipios"},
  "transform": [{"stack": "pct", "groupby": [], "sort": [{"field": "orden", "order": "ascending"}], "as": ["y0", "y1"]}, {"filter": "datum.municipio === 'Loreto'"}],
  "mark": {"type": "rect", "fill": {"gradient": "linear", "x1": 0, "y1": 1, "x2": 1.053, "y2": 0.941, "stops": [
{"offset":0,"color":"rgba(0,0,0,0)"},
{"offset":0.03,"color":"rgba(0,0,0,0)"},{"offset":0.03,"color":"#000"},{"offset":0.039,"color":"#000"},{"offset":0.039,"color":"rgba(0,0,0,0)"},
{"offset":0.0967,"color":"rgba(0,0,0,0)"},{"offset":0.0967,"color":"#000"},{"offset":0.1057,"color":"#000"},{"offset":0.1057,"color":"rgba(0,0,0,0)"},
{"offset":0.1633,"color":"rgba(0,0,0,0)"},{"offset":0.1633,"color":"#000"},{"offset":0.1723,"color":"#000"},{"offset":0.1723,"color":"rgba(0,0,0,0)"},
{"offset":0.23,"color":"rgba(0,0,0,0)"},{"offset":0.23,"color":"#000"},{"offset":0.239,"color":"#000"},{"offset":0.239,"color":"rgba(0,0,0,0)"},
{"offset":0.2967,"color":"rgba(0,0,0,0)"},{"offset":0.2967,"color":"#000"},{"offset":0.3057,"color":"#000"},{"offset":0.3057,"color":"rgba(0,0,0,0)"},
{"offset":0.3633,"color":"rgba(0,0,0,0)"},{"offset":0.3633,"color":"#000"},{"offset":0.3723,"color":"#000"},{"offset":0.3723,"color":"rgba(0,0,0,0)"},
{"offset":0.43,"color":"rgba(0,0,0,0)"},{"offset":0.43,"color":"#000"},{"offset":0.439,"color":"#000"},{"offset":0.439,"color":"rgba(0,0,0,0)"},
{"offset":0.4967,"color":"rgba(0,0,0,0)"},{"offset":0.4967,"color":"#000"},{"offset":0.5057,"color":"#000"},{"offset":0.5057,"color":"rgba(0,0,0,0)"},
{"offset":0.5633,"color":"rgba(0,0,0,0)"},{"offset":0.5633,"color":"#000"},{"offset":0.5723,"color":"#000"},{"offset":0.5723,"color":"rgba(0,0,0,0)"},
{"offset":0.63,"color":"rgba(0,0,0,0)"},{"offset":0.63,"color":"#000"},{"offset":0.639,"color":"#000"},{"offset":0.639,"color":"rgba(0,0,0,0)"},
{"offset":0.6967,"color":"rgba(0,0,0,0)"},{"offset":0.6967,"color":"#000"},{"offset":0.7057,"color":"#000"},{"offset":0.7057,"color":"rgba(0,0,0,0)"},
{"offset":0.7633,"color":"rgba(0,0,0,0)"},{"offset":0.7633,"color":"#000"},{"offset":0.7723,"color":"#000"},{"offset":0.7723,"color":"rgba(0,0,0,0)"},
{"offset":0.83,"color":"rgba(0,0,0,0)"},{"offset":0.83,"color":"#000"},{"offset":0.839,"color":"#000"},{"offset":0.839,"color":"rgba(0,0,0,0)"},
{"offset":0.8967,"color":"rgba(0,0,0,0)"},{"offset":0.8967,"color":"#000"},{"offset":0.9057,"color":"#000"},{"offset":0.9057,"color":"rgba(0,0,0,0)"},
{"offset":0.9633,"color":"rgba(0,0,0,0)"},{"offset":0.9633,"color":"#000"},{"offset":0.9723,"color":"#000"},{"offset":0.9723,"color":"rgba(0,0,0,0)"},
{"offset":1,"color":"rgba(0,0,0,0)"}]}},
  "encoding": {
   "x": {"datum": 61.6, "type": "quantitative", "scale": {"domain": [0, 100], "nice": false, "zero": false}},
   "x2": {"datum": 78.29},
   "y": {"field": "y0", "type": "quantitative", "scale": {"domain": [0, 100], "range": [926, 241], "nice": false, "zero": false}},
   "y2": {"field": "y1"}}},
 {"data": {"name": "municipios"},
  "transform": [{"stack": "pct", "groupby": [], "sort": [{"field": "orden", "order": "ascending"}], "as": ["y0", "y1"]}],
  "mark": {"type": "rect", "fill": "white", "fillOpacity": 0, "stroke": "black", "strokeWidth": 3.5},
  "encoding": {
   "x": {"datum": 61.6, "type": "quantitative", "scale": {"domain": [0, 100], "nice": false, "zero": false}},
   "x2": {"datum": 78.29},
   "y": {"field": "y0", "type": "quantitative", "scale": {"domain": [0, 100], "range": [926, 241], "nice": false, "zero": false}},
   "y2": {"field": "y1"}}},
 {"data": {"name": "municipios"},
  "mark": {"type": "rule", "strokeWidth": 3, "color": "black"},
  "encoding": {
   "x": {"datum": 78.29, "type": "quantitative", "scale": {"domain": [0, 100], "nice": false, "zero": false}},
   "x2": {"datum": 80.44},
   "y": {"field": "pct", "type": "quantitative", "stack": "zero", "bandPosition": 0.62, "scale": {"domain": [0, 100], "range": [926, 241], "nice": false, "zero": false}},
   "order": {"field": "orden", "type": "quantitative", "sort": "ascending"}}},
 {"data": {"name": "municipios"},
  "mark": {"type": "text", "align": "center", "baseline": "middle", "fontSize": 28, "dy": -16, "fill": "black"},
  "encoding": {
   "x": {"datum": 84.19, "type": "quantitative", "scale": {"domain": [0, 100], "nice": false, "zero": false}},
   "y": {"field": "pct", "type": "quantitative", "stack": "zero", "bandPosition": 0.62, "scale": {"domain": [0, 100], "range": [926, 241], "nice": false, "zero": false}},
   "order": {"field": "orden", "type": "quantitative", "sort": "ascending"},
   "text": {"field": "municipio", "type": "nominal"}}},
 {"data": {"name": "municipios"},
  "mark": {"type": "text", "align": "center", "baseline": "middle", "fontSize": 28, "dy": 17, "fill": "black"},
  "encoding": {
   "x": {"datum": 84.19, "type": "quantitative", "scale": {"domain": [0, 100], "nice": false, "zero": false}},
   "y": {"field": "pct", "type": "quantitative", "stack": "zero", "bandPosition": 0.62, "scale": {"domain": [0, 100], "range": [926, 241], "nice": false, "zero": false}},
   "order": {"field": "orden", "type": "quantitative", "sort": "ascending"},
   "text": {"field": "pct", "type": "quantitative", "format": ".1f"}}},
 {"data": {"name": "notas"}, "transform": [{"filter": "datum.tipo === 'grafica'"}],
  "mark": {"type": "text", "align": "left", "baseline": "alphabetic", "fontSize": 35, "fill": "black"},
  "encoding": {
   "x": {"datum": 85.07, "type": "quantitative", "scale": {"domain": [0, 100], "nice": false, "zero": false}},
   "y": {"datum": 129.64, "type": "quantitative", "scale": {"domain": [0, 100], "range": [926, 241], "nice": false, "zero": false}},
   "text": {"field": "nota", "type": "nominal"}}},
 {"data": {"name": "notas"}, "transform": [{"filter": "datum.tipo === 'fuente'"}],
  "mark": {"type": "text", "align": "left", "baseline": "alphabetic", "fontSize": 28, "fill": "black"},
  "encoding": {
   "x": {"datum": 8.1, "type": "quantitative", "scale": {"domain": [0, 100], "nice": false, "zero": false}},
   "y": {"datum": -31.39, "type": "quantitative", "scale": {"domain": [0, 100], "range": [926, 241], "nice": false, "zero": false}},
   "text": {"field": "nota", "type": "nominal"}}}
]
}
